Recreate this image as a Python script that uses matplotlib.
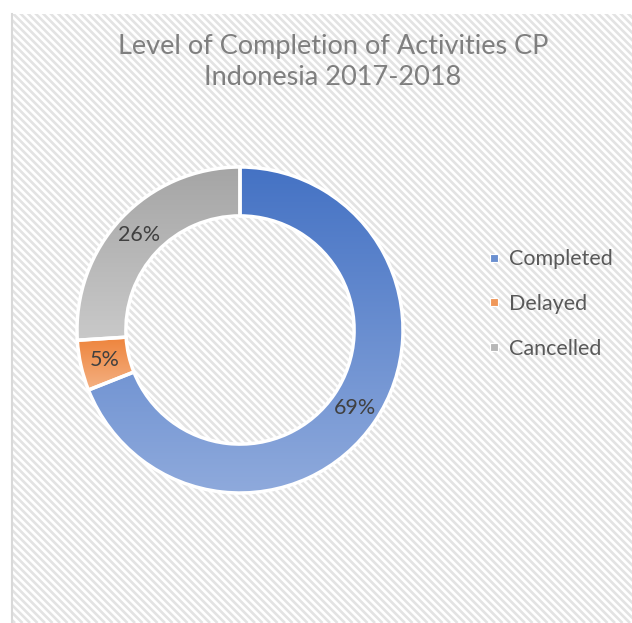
import numpy as np
import matplotlib
matplotlib.use('Agg')
import matplotlib.pyplot as plt
from matplotlib.patches import Rectangle
from matplotlib.lines import Line2D
from matplotlib.collections import LineCollection
from matplotlib.colors import LinearSegmentedColormap

# Data
labels = ['Completed', 'Delayed', 'Cancelled']
shares = [69, 5, 26]
top_colors = ['#4472C4', '#ED7D31', '#A5A5A5']
bottom_colors = ['#8FAADC', '#F4B183', '#C9C9C9']
mid_colors = ['#6A8FD0', '#F0985A', '#B7B7B7']

plt.rcParams['font.family'] = ['Lato', 'DejaVu Sans']

W, H = 632, 623
fig = plt.figure(figsize=(W / 100, H / 100), dpi=100)

# Hatched chart-area background, drawn in pixel coordinates
bgax = fig.add_axes([0, 0, 1, 1], zorder=-10)
bgax.set_xlim(0, W)
bgax.set_ylim(H, 0)
bgax.axis('off')
area = Rectangle((12, 14), W - 12, H - 14, facecolor='white', edgecolor='none')
bgax.add_patch(area)
period = 7.5
segs = []
for c in np.arange(-H, W, period):
    segs.append([(c, 0), (c + H, H)])
lc = LineCollection(segs, colors='#e3e3e3', linewidths=1.9)
bgax.add_collection(lc)
lc.set_clip_path(area)
bgax.plot([12, 12], [14, H], color='#d9d9d9', linewidth=1.5)

# Donut axes: center (240, 330) px, radius 163 px
half = 170
ax = fig.add_axes([(240 - half) / W, (H - 330 - half) / H, 2 * half / W, 2 * half / H])
lim = half / 163
ax.axis('off')

wedges, _, autotexts = ax.pie(shares, startangle=90, counterclock=False, radius=1,
                              autopct='%1.0f%%', pctdistance=0.85,
                              wedgeprops=dict(width=0.3, edgecolor='white', linewidth=2.5),
                              textprops=dict(color='#404040', fontsize=15.5))

for w, c0, c1 in zip(wedges, top_colors, bottom_colors):
    verts = w.get_path().vertices
    x0, y0 = verts.min(axis=0)
    x1, y1 = verts.max(axis=0)
    cmap = LinearSegmentedColormap.from_list('g', [c0, c1])
    grad = np.linspace(0, 1, 256).reshape(-1, 1)
    im = ax.imshow(grad, cmap=cmap, extent=[x0, x1, y0, y1], aspect='auto',
                   zorder=0.5, interpolation='bicubic')
    im.set_clip_path(w)
    w.set_facecolor('none')
    w.set_zorder(1)

for t in autotexts:
    t.set_zorder(3)

ax.set_xlim(-lim, lim)
ax.set_ylim(-lim, lim)
ax.set_aspect('equal')

fig.text(333 / W, 1 - 62 / H, 'Level of Completion of Activities CP\nIndonesia 2017-2018',
         ha='center', va='center', fontsize=19.5, color='#7f7f7f', linespacing=1.3)

handles = [Line2D([], [], marker='s', linestyle='none', markersize=6,
                  markerfacecolor=c, markeredgecolor='white', markeredgewidth=0.8)
           for c in mid_colors]
leg = fig.legend(handles, labels, loc='center left', bbox_to_anchor=(466 / W, 1 - 304 / H),
                 fontsize=15.5, labelcolor='#595959', frameon=False, handlelength=0.6,
                 handletextpad=0.4, labelspacing=1.15, borderpad=0.5)

fig.savefig('out.png', dpi=100)
